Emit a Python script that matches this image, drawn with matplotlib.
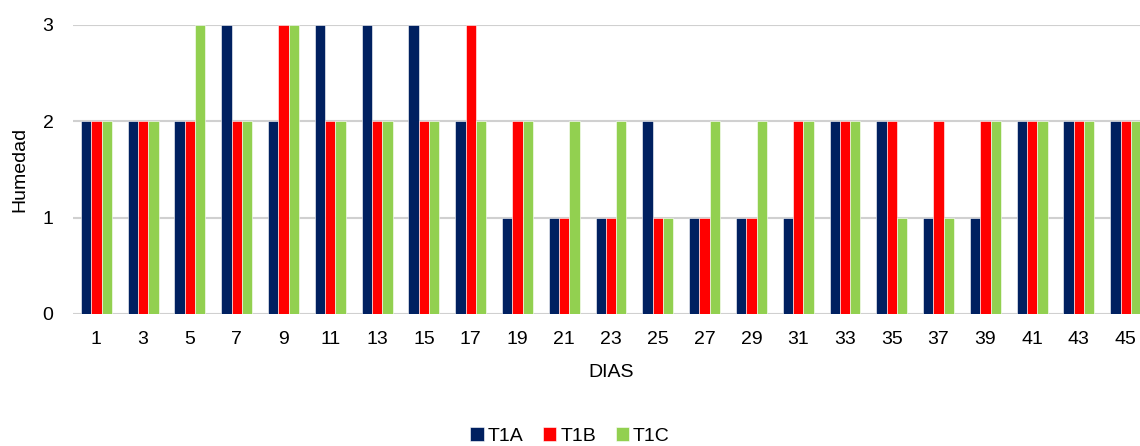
import numpy as np
import matplotlib.pyplot as plt

plt.rcParams['font.family'] = ['Liberation Sans', 'DejaVu Sans']

dias = [1, 3, 5, 7, 9, 11, 13, 15, 17, 19, 21, 23, 25, 27, 29, 31, 33, 35, 37, 39, 41, 43, 45]
t1a = [2, 2, 2, 3, 2, 3, 3, 3, 2, 1, 1, 1, 2, 1, 1, 1, 2, 2, 1, 1, 2, 2, 2]
t1b = [2, 2, 2, 2, 3, 2, 2, 2, 3, 2, 1, 1, 1, 1, 1, 2, 2, 2, 2, 2, 2, 2, 2]
t1c = [2, 2, 3, 2, 3, 2, 2, 2, 2, 2, 2, 2, 1, 2, 2, 2, 2, 1, 1, 2, 2, 2, 2]

fig = plt.figure(figsize=(11.4, 4.46), dpi=100)
ax = fig.add_axes([0.064, 0.296, 0.944, 0.648])

x = np.arange(len(dias))
w = 0.22
series = [("T1A", t1a, "#002060"), ("T1B", t1b, "#FF0000"), ("T1C", t1c, "#92D050")]
for i, (name, vals, col) in enumerate(series):
    ax.bar(x + (i - 1) * w, vals, w, color=col, label=name,
           edgecolor="white", linewidth=0.4, zorder=3)

ax.set_xlim(-0.5, len(dias) - 0.5)
ax.set_ylim(0, 3)
ax.set_yticks([0, 1, 2, 3])
ax.set_xticks(x)
ax.set_xticklabels([str(d) for d in dias])
ax.yaxis.grid(True, color="#d0d0d0", linewidth=1.5, zorder=0)
for s in ax.spines.values():
    s.set_visible(False)
ax.tick_params(axis="both", length=0, labelsize=14, colors="#000000")
ax.tick_params(axis="x", pad=12)
ax.tick_params(axis="y", pad=14)

ax.set_xlabel("DIAS", fontsize=14, labelpad=12)
ax.set_ylabel("Humedad", fontsize=14, labelpad=10)

fig.legend(loc="center", bbox_to_anchor=(0.5, 0.022), ncol=3, frameon=False,
           fontsize=14, handlelength=0.7, handleheight=0.7,
           handletextpad=0.2, columnspacing=1.0)

fig.savefig("out.png", dpi=100)
